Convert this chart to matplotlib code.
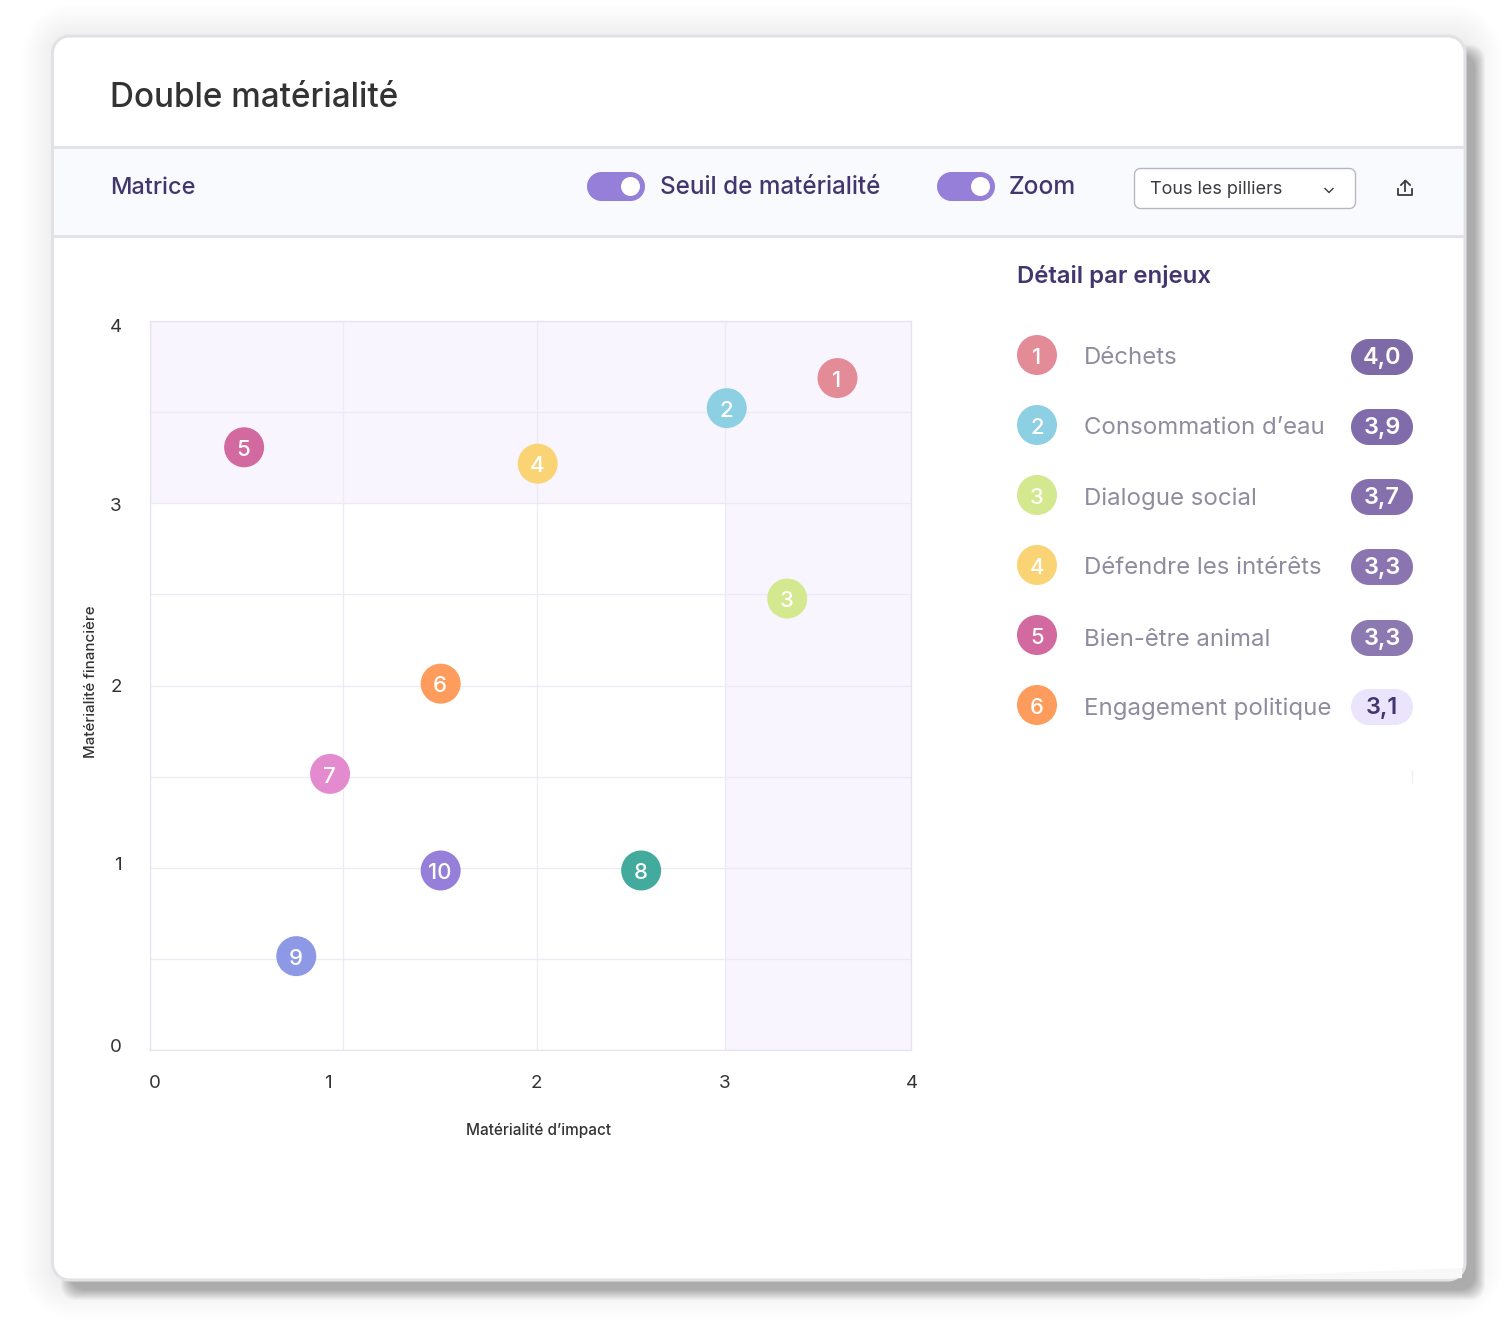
import numpy as np
import matplotlib
matplotlib.use("Agg")
import matplotlib.pyplot as plt
from matplotlib.patches import Polygon, Circle
from matplotlib.transforms import ScaledTranslation

FONT = ["Inter", "DejaVu Sans"]
plt.rcParams["font.family"] = FONT

# ---------- data ----------
title = "Double matérialité"
point_ids = ["1", "2", "3", "4", "5", "6", "7", "8", "9", "10"]
impact = [3.605, 3.01, 3.335, 2.005, 0.49, 1.505, 0.935, 2.555, 0.76, 1.505]
financial = [3.687, 3.522, 2.477, 3.217, 3.307, 2.01, 1.515, 0.985, 0.515, 0.985]
point_colors = ["#e38c98", "#8dd0e3", "#d3e88f", "#fad474", "#d2699f",
                "#fd9c5c", "#e48bcf", "#43ab9d", "#8e99e5", "#957fd8"]
threshold = 3
detail_names = ["Déchets", "Consommation d’eau", "Dialogue social",
                "Défendre les intérêts", "Bien-être animal", "Engagement politique"]
detail_scores = ["4,0", "3,9", "3,7", "3,3", "3,3", "3,1"]
badge_colors = ["#7f6aa8", "#806bab", "#8570ad", "#8a75b0", "#8d79b2", "#ebe4fd"]
badge_text = ["white"] * 5 + ["#43366e"]
x_ticks = [0, 1, 2, 3, 4]
y_ticks = [0, 1, 2, 3, 4]
y_grid_minor = [0.5, 1.5, 2.5, 3.5]

W, H = 1506, 1335
DARK = "#43366e"
fig = plt.figure(figsize=(W / 100, H / 100), dpi=100, facecolor="white")
bg = fig.add_axes([0, 0, 1, 1])
bg.set_xlim(0, W); bg.set_ylim(H, 0); bg.axis("off")


def rrect(x0, y0, x1, y1, r, fc, ec="none", lw=0, alpha=None, z=1):
    t = np.linspace(0, np.pi / 2, 24)
    pts = []
    for cx, cy, a in [(x1 - r, y0 + r, -np.pi / 2), (x1 - r, y1 - r, 0),
                      (x0 + r, y1 - r, np.pi / 2), (x0 + r, y0 + r, np.pi)]:
        pts += list(zip(cx + r * np.cos(t + a), cy + r * np.sin(t + a)))
    p = Polygon(pts, closed=True, fc=fc, ec=ec, lw=lw, alpha=alpha, zorder=z)
    bg.add_patch(p)
    return p


def txt(x, y, s, size, color, ha="left", weight="normal", z=5):
    return bg.text(x, y + 2, s, fontsize=size * 0.72, color=color, ha=ha, va="center",
                   fontweight=weight, zorder=z)


# outer haze
for d in range(2, 36, 2):
    rrect(53 - d + 3, 36 - d + 3, 1465 + d + 3, 1280 + d + 3, 16 + d, "black", alpha=0.0022, z=0.5)
# hard shadow
for d in np.arange(-5, 6):
    rrect(66 - d, 50 - d, 1480 + d, 1295 + d, 14, "black", alpha=0.027, z=0.6)

# card
rrect(52.5, 36, 1465, 1280, 17, "white", ec="#e2e2e6", lw=2.2, z=1)
bg.fill([1200, 1462, 1462, 1450, 1200], [1278, 1268, 1278, 1279, 1279], color="#f8f8f9", lw=0, zorder=1.1)
bg.fill_between([54, 1463.5], 148, 235, color="#f9fafe", lw=0, zorder=1.2)
bg.plot([53.5, 1464], [147, 147], color="#e2e3e8", lw=2.2, zorder=1.3, solid_capstyle="butt")
bg.plot([53.5, 1464], [235.5, 235.5], color="#e2e3e8", lw=2.2, zorder=1.3, solid_capstyle="butt")

# header
txt(110.5, 96, title, 33.3, "#333333", weight="medium")
txt(110.5, 186.5, "Matrice", 23.5, DARK, weight="medium")
for x0, x1 in [(587, 645), (937, 995)]:
    rrect(x0, 172, x1, 201, 14.5, "#957fd8", z=3)
    bg.add_patch(Circle((x1 - 14.5, 186.5), 9.5, fc="white", ec="none", zorder=4))
txt(660, 186, "Seuil de matérialité", 24.2, DARK, weight="medium")
txt(1009, 186, "Zoom", 24.6, DARK, weight="medium")
rrect(1134.5, 168.5, 1355.5, 208.5, 6, "white", ec="#b8b6c4", lw=1, z=3)
txt(1150, 187, "Tous les pilliers", 18, "#3a3a44")
bg.plot([1325, 1329, 1333], [188.5, 192.5, 188.5], color="#3a3a44", lw=1.0, zorder=5)
# export icon
bg.plot([1398.5, 1398.5, 1412.5, 1412.5], [189, 195, 195, 189], color="#3a3a44", lw=1.3, zorder=5)
bg.plot([1405.5, 1405.5], [181, 191], color="#3a3a44", lw=1.3, zorder=5)
bg.plot([1401, 1405.5, 1410], [185, 180.5, 185], color="#3a3a44", lw=1.3, zorder=5)

# detail panel
txt(1017, 274.5, "Détail par enjeux", 24, DARK, weight="semibold")
circle_y = [355, 425, 495, 565, 635, 705]
row_y = [357, 427, 497, 567, 638, 707]
for i, name in enumerate(detail_names):
    bg.add_patch(Circle((1037, circle_y[i]), 20, fc=point_colors[i], ec="none", zorder=3))
    txt(1037, circle_y[i] + 0.5, point_ids[i], 22, "white", ha="center", weight="medium")
    txt(1084, row_y[i] - 0.5, name, 24, "#8e8c9f")
    rrect(1351, row_y[i] - 18, 1413, row_y[i] + 18, 18, badge_colors[i], z=3)
    txt(1382, row_y[i] - 1, detail_scores[i], 23.5, badge_text[i], ha="center", weight="semibold")
bg.plot([1412.5, 1412.5], [771, 783], color="#f0eff6", lw=1, zorder=2)

# ---------- matrix ----------
ax = fig.add_axes([149.5 / W, 1 - 1050 / H, 761.5 / W, 729 / H], facecolor="white", zorder=2)
x_px = [0, 193, 387, 575, 761]
ax.set_xscale("function", functions=(lambda v: np.interp(v, x_ticks, x_px, left=-1e3, right=1e4),
                                     lambda p: np.interp(p, x_px, x_ticks)))
ax.set_xlim(0, 4)
ax.set_ylim(0, 4)
ax.axhspan(threshold, 4, color="#f9f5fe", lw=0, zorder=0)
ax.fill_between([threshold, 4], 0, threshold, color="#f9f5fe", lw=0, zorder=0)
ax.set_xticks(x_ticks)
ax.set_yticks(y_ticks)
ax.set_yticks(y_grid_minor, minor=True)
ax.grid(True, which="both", color="#eceaf5", lw=0.9, zorder=1)
ax.set_axisbelow(True)
for s in ax.spines.values():
    s.set_color("#e6e3f1"); s.set_linewidth(0.9)
ax.tick_params(which="both", length=0)
ax.tick_params(axis="x", pad=18, labelsize=13.5, labelcolor="#333333")
ax.tick_params(axis="y", pad=20, labelsize=13.5, labelcolor="#333333")
x_off = [5.5, -15, 0, -0.5, 1]
y_off = [4, 4, 0, -1, -4]
fig.canvas.draw()
for lab, d in zip(ax.get_xticklabels(), x_off):
    lab.set_transform(lab.get_transform() + ScaledTranslation(d / 100, 0, fig.dpi_scale_trans))
for lab, d in zip(ax.get_yticklabels(), y_off):
    lab.set_transform(lab.get_transform() + ScaledTranslation(0, d / 100, fig.dpi_scale_trans))
ax.set_xlabel("Matérialité d’impact", fontsize=11, color="#333333", fontweight="medium")
ax.xaxis.set_label_coords(389 / 761, -80 / 729)
ax.xaxis.label.set_va("center")
ax.set_ylabel("Matérialité financière", fontsize=10.8, color="#333333", fontweight="medium")
ax.yaxis.set_label_coords(-58 / 761, 368 / 729)
ax.yaxis.label.set_va("center")
ax.scatter(impact, financial, s=829, c=point_colors, linewidths=0, zorder=3, clip_on=False)
for px, py, pid in zip(impact, financial, point_ids):
    ax.annotate(pid, (px, py), xytext=(-0.5, -2), textcoords="offset points", ha="center", va="center",
                color="white", fontsize=16, fontweight="medium", zorder=4)

fig.savefig("out.png", dpi=100)
